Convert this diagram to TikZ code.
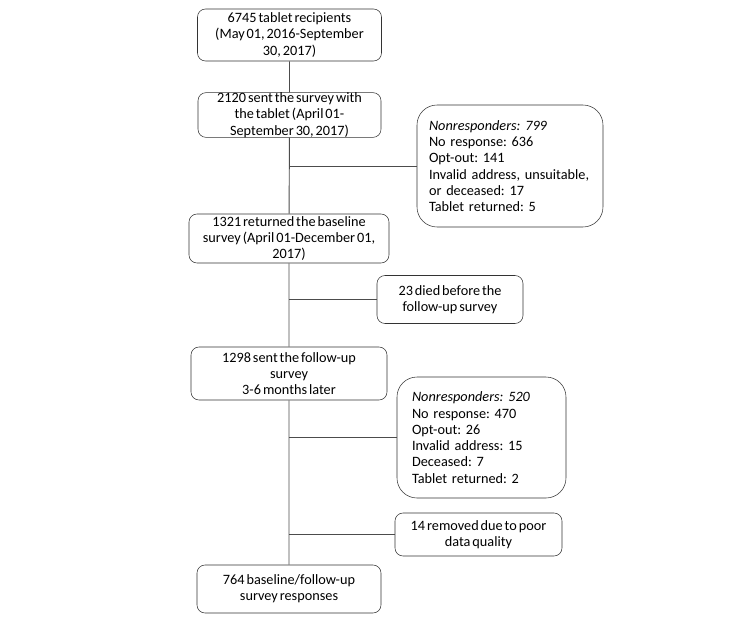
\documentclass[tikz,border=0pt]{standalone}
\usepackage{fontspec}
\setmainfont{Carlito}[WordSpace=0.6]
\newcommand{\boxfont}{\fontsize{10.7}{12.2}\selectfont\frenchspacing\hyphenpenalty=10000}
\begin{document}
\begin{tikzpicture}[x=0.75pt, y=-0.75pt,
	stepbox/.style={draw=black!80, rounded corners=6pt, align=center, inner sep=0pt, font=\boxfont},
	listbox/.style={draw=black!80, rounded corners=15pt, align=left, inner ysep=0pt, font=\boxfont},
	link/.style={draw=black!70, line width=0.7pt}]
	\useasboundingbox (0,0) rectangle (747,622);

	% main column
	\node[stepbox, minimum width=184*0.75pt, minimum height=52*0.75pt] (recip) at (289.5,35) {6745 tablet recipients\\(May 01, 2016-September\\30, 2017)};
	\node[stepbox, minimum width=183*0.75pt, minimum height=41*0.75pt] (sent) at (289.5,115) {2120 sent the survey with\\the tablet (April 01-\\September 30, 2017)};
	\node[stepbox, minimum width=200*0.75pt, minimum height=49*0.75pt] (base) at (289,238.5) {1321 returned the baseline\\survey (April 01-December 01,\\2017)};
	\node[stepbox, minimum width=196*0.75pt, minimum height=53*0.75pt] (follow) at (289,373.5) {1298 sent the follow-up\\survey\\3-6 months later};
	\node[stepbox, minimum width=184*0.75pt, minimum height=48*0.75pt] (final) at (289,589) {764 baseline/follow-up\\survey responses};

	% side boxes
	\node[listbox, text width=162*0.75pt, inner xsep=9pt, minimum height=122*0.75pt] (nonresp1) at (510,166) {\textit{Nonresponders:\ 799}\\No response:\ 636\\Opt-out:\ 141\\Invalid address, unsuitable,\\or deceased:\ 17\\Tablet returned:\ 5};
	\node[stepbox, minimum width=146*0.75pt, minimum height=48*0.75pt] (died) at (450,299.5) {23 died before the\\follow-up survey};
	\node[listbox, text width=139*0.75pt, inner xsep=11.25pt, minimum height=121*0.75pt] (nonresp2) at (481.5,437.5) {\textit{Nonresponders:\ 520}\\No response:\ 470\\Opt-out:\ 26\\Invalid address:\ 15\\Deceased:\ 7\\Tablet returned:\ 2};
	\node[stepbox, minimum width=167*0.75pt, minimum height=43*0.75pt] (removed) at (478.5,534.5) {14 removed due to poor\\data quality};

	% connectors
	\draw[link] (recip) -- (sent) -- (base) -- (follow) -- (final);
	\draw[link] (nonresp1.west) -- (nonresp1.west -| sent.south);
	\draw[link] (died.west) -- (died.west -| base.south);
	\draw[link] (nonresp2.west) -- (nonresp2.west -| follow.south);
	\draw[link] (removed.west) -- (removed.west -| follow.south);
\end{tikzpicture}
\end{document}
